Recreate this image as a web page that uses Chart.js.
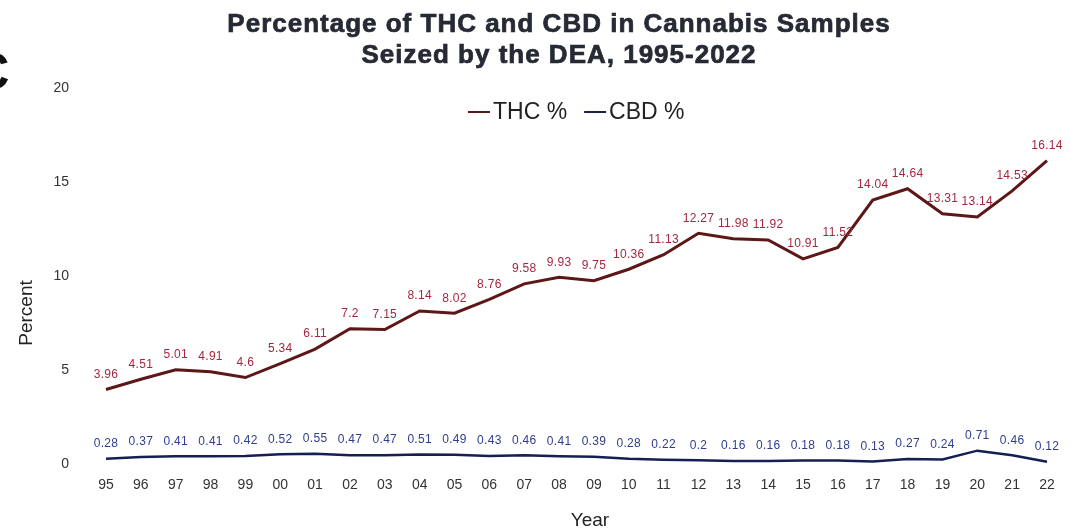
<!DOCTYPE html>
<html><head><meta charset="utf-8">
<script src="https://cdn.jsdelivr.net/npm/chart.js@4/dist/chart.umd.min.js"></script>
<style>html,body{margin:0;padding:0;background:#fff}#wrap{width:1074px;height:532px;position:relative}</style>
</head><body><div id="wrap"><canvas id="chart" width="1074" height="532"></canvas></div>
<script>
/* THC / CBD potency chart */
const years=['95','96','97','98','99','00','01','02','03','04','05','06','07','08','09','10','11','12','13','14','15','16','17','18','19','20','21','22'];
const thc=[3.96,4.51,5.01,4.91,4.6,5.34,6.11,7.2,7.15,8.14,8.02,8.76,9.58,9.93,9.75,10.36,11.13,12.27,11.98,11.92,10.91,11.52,14.04,14.64,13.31,13.14,14.53,16.14];
const cbd=[0.28,0.37,0.41,0.41,0.42,0.52,0.55,0.47,0.47,0.51,0.49,0.43,0.46,0.41,0.39,0.28,0.22,0.2,0.16,0.16,0.18,0.18,0.13,0.27,0.24,0.71,0.46,0.12];
const yTicks=[0,5,10,15,20];
const titleLines=['Percentage of THC and CBD in Cannabis Samples','Seized by the DEA, 1995-2022'];
const seriesNames=['THC %','CBD %'];

const FONT='"Liberation Sans", Arial, sans-serif';

const valueLabels={id:'valueLabels',afterDatasetsDraw(c){const ctx=c.ctx;
  c.data.datasets.forEach((ds,i)=>{const meta=c.getDatasetMeta(i);
    ctx.save();ctx.font='12px '+FONT;ctx.letterSpacing='0.3px';ctx.fillStyle=ds.labelColor;ctx.textAlign='center';ctx.textBaseline='middle';
    meta.data.forEach((p,j)=>ctx.fillText(String(ds.data[j]),p.x,p.y-15));ctx.restore();});}};

const header={id:'header',afterDraw(c){const ctx=c.ctx;ctx.save();
  ctx.fillStyle='#262a35';ctx.strokeStyle='#262a35';ctx.lineWidth=0.7;ctx.textAlign='center';ctx.textBaseline='middle';
  ctx.font='bold 26px '+FONT;ctx.letterSpacing='1px';
  titleLines.forEach((t,i)=>{ctx.fillText(t,559,25+i*31);ctx.strokeText(t,559,25+i*31);});
  ctx.letterSpacing='0px';
  /* legend */
  ctx.font='23px '+FONT;ctx.textAlign='left';
  let x=468;
  c.data.datasets.forEach((ds,i)=>{
    ctx.strokeStyle=ds.borderColor;ctx.lineWidth=2;ctx.beginPath();ctx.moveTo(x,112);ctx.lineTo(x+22,112);ctx.stroke();
    ctx.fillStyle='#222';ctx.fillText(seriesNames[i],x+25,113);
    x+=25+ctx.measureText(seriesNames[i]).width+17;});
  /* axis titles */
  ctx.font='19px '+FONT;ctx.fillStyle='#222';ctx.textAlign='center';
  ctx.fillText('Year',590,521);
  ctx.translate(27,313);ctx.rotate(-Math.PI/2);ctx.fillText('Percent',0,0);ctx.setTransform(1,0,0,1,0,0);
  /* scan artefact at left edge */
  ctx.font='bold 52px '+FONT;ctx.fillStyle='#111';ctx.textAlign='left';ctx.fillText('C',-28,75);
  ctx.restore();}};

new Chart(document.getElementById('chart'),{type:'line',
  data:{labels:years,datasets:[
    {label:seriesNames[0],data:thc,borderColor:'#5e1717',labelColor:'#a3283f',borderWidth:3,pointRadius:0,tension:0},
    {label:seriesNames[1],data:cbd,borderColor:'#141f52',labelColor:'#2e3d8e',borderWidth:2.5,pointRadius:0,tension:0}]},
  options:{responsive:false,animation:false,devicePixelRatio:1,
    layout:{padding:{top:88,right:27,left:0,bottom:0}},
    plugins:{legend:{display:false},title:{display:false},tooltip:{enabled:false}},
    scales:{
      x:{grid:{display:false,drawTicks:false},border:{display:false},
        ticks:{color:'#333',font:{size:14,family:FONT},padding:13,maxRotation:0,autoSkip:false},
        afterFit:s=>{s.height=68}},
      y:{min:0,max:20,grid:{display:false,drawTicks:false},border:{display:false},
        afterBuildTicks:s=>{s.ticks=yTicks.map(v=>({value:v}))},
        ticks:{color:'#333',font:{size:14,family:FONT},padding:37},
        afterFit:s=>{s.width=106}}}},
  plugins:[valueLabels,header]});
</script>
</body></html>
